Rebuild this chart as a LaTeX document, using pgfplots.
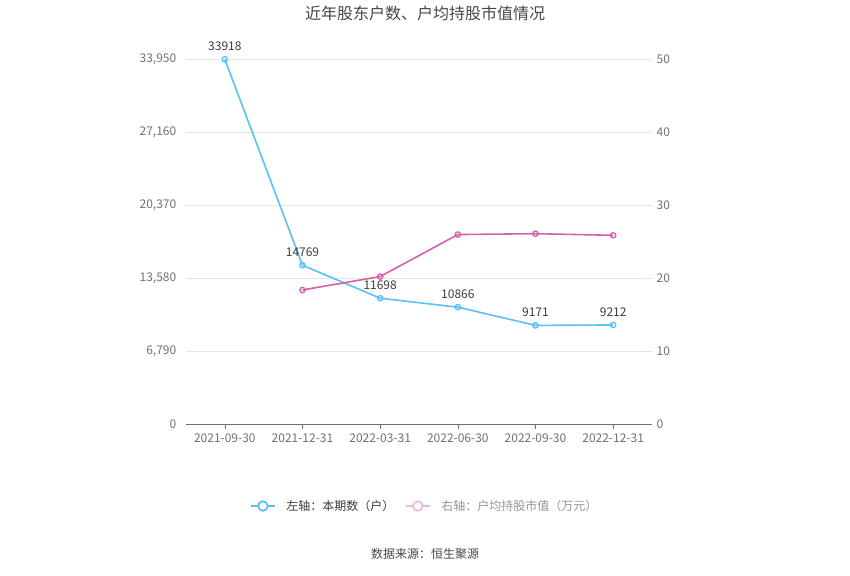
\documentclass[border=0pt]{standalone}
\usepackage{pgfplots}
\pgfplotsset{compat=1.18}
\usepackage{fontspec}
\setmainfont{Noto Sans CJK SC}
\definecolor{bl}{RGB}{91,192,245}
\definecolor{pk}{RGB}{214,96,172}
\definecolor{gridc}{RGB}{224,230,241}
\definecolor{tickc}{RGB}{110,112,121}
\definecolor{titc}{RGB}{70,70,70}
\definecolor{lblc}{RGB}{60,60,60}
\begin{document}
\begin{tikzpicture}
\useasboundingbox (0,0) rectangle (637.5pt,431.25pt);
\node[font=\fontsize{12pt}{14pt}\selectfont, text=titc] at (318.75pt,421.5pt) {近年股东户数、户均持股市值情况};
\node[font=\fontsize{9pt}{11pt}\selectfont, text=titc] at (318.75pt,15.75pt) {数据来源：恒生聚源};
\begin{axis}[
  at={(139.5pt,113.25pt)}, anchor=south west,
  width=349.5pt, height=273.75pt, scale only axis,
  xmin=-0.5, xmax=5.5, ymin=0, ymax=33950,
  xtick={0,...,5},
  xticklabels={2021-09-30,2021-12-31,2022-03-31,2022-06-30,2022-09-30,2022-12-31},
  ytick={0,6790,13580,20370,27160,33950},
  axis x line*=bottom, axis y line*=left,
  y axis line style={draw=none},
  x axis line style={draw=tickc, -},
  ytick style={draw=none},
  xtick style={draw=tickc},
  tick align=outside, major tick length=3.75pt,
  ymajorgrids, grid style={gridc, line width=0.6pt},
  tick label style={font=\fontsize{9pt}{11pt}\selectfont, text=tickc},
  /pgf/number format/assume math mode=true,
  yticklabel style={/pgf/number format/.cd,1000 sep={,},fixed},
  scaled y ticks=false,
  nodes near coords,
  point meta=explicit symbolic,
  every node near coord/.append style={font=\fontsize{9pt}{11pt}\selectfont, text=lblc, yshift=2.5pt},
]
\addplot[color=bl, line width=1.2pt, mark=o, mark size=2pt, mark options={fill=white, line width=1pt}] coordinates {
 (0,33918) [33918] (1,14769) [14769] (2,11698) [11698] (3,10866) [10866] (4,9171) [9171] (5,9212) [9212]};
\end{axis}
\begin{axis}[
  at={(139.5pt,113.25pt)}, anchor=south west,
  width=349.5pt, height=273.75pt, scale only axis,
  xmin=-0.5, xmax=5.5, ymin=0, ymax=50,
  ytick={0,10,...,50},
  axis x line=none, axis y line*=right,
  y axis line style={draw=none},
  ytick style={draw=none},
  tick label style={font=\fontsize{9pt}{11pt}\selectfont, text=tickc},
  /pgf/number format/assume math mode=true,
  legend columns=2,
  legend style={at={(0.513,-0.2247)}, anchor=center, draw=none, fill=none,
    font=\fontsize{9pt}{11pt}\selectfont, column sep=6pt},
  legend image code/.code={
    \draw[#1, mark=none] (0pt,0pt) -- (18pt,0pt);
    \draw[#1, fill=white, line width=1.3pt] (9pt,0pt) circle (3.6pt);
  },
]
\addlegendimage{color=bl, line width=1.2pt}
\addlegendentry{\textcolor{lblc}{左轴：本期数（户）}}
\addplot[color=pk, line width=1.2pt, mark=o, mark size=2pt, mark options={fill=white, line width=1pt}, forget plot] coordinates {
 (1,18.36) (2,20.2) (3,25.95) (4,26.07) (5,25.85)};
\addlegendimage{color=pk!45, line width=1.2pt}
\addlegendentry{\textcolor{tickc!75}{右轴：户均持股市值（万元）}}
\end{axis}
\end{tikzpicture}
\end{document}
